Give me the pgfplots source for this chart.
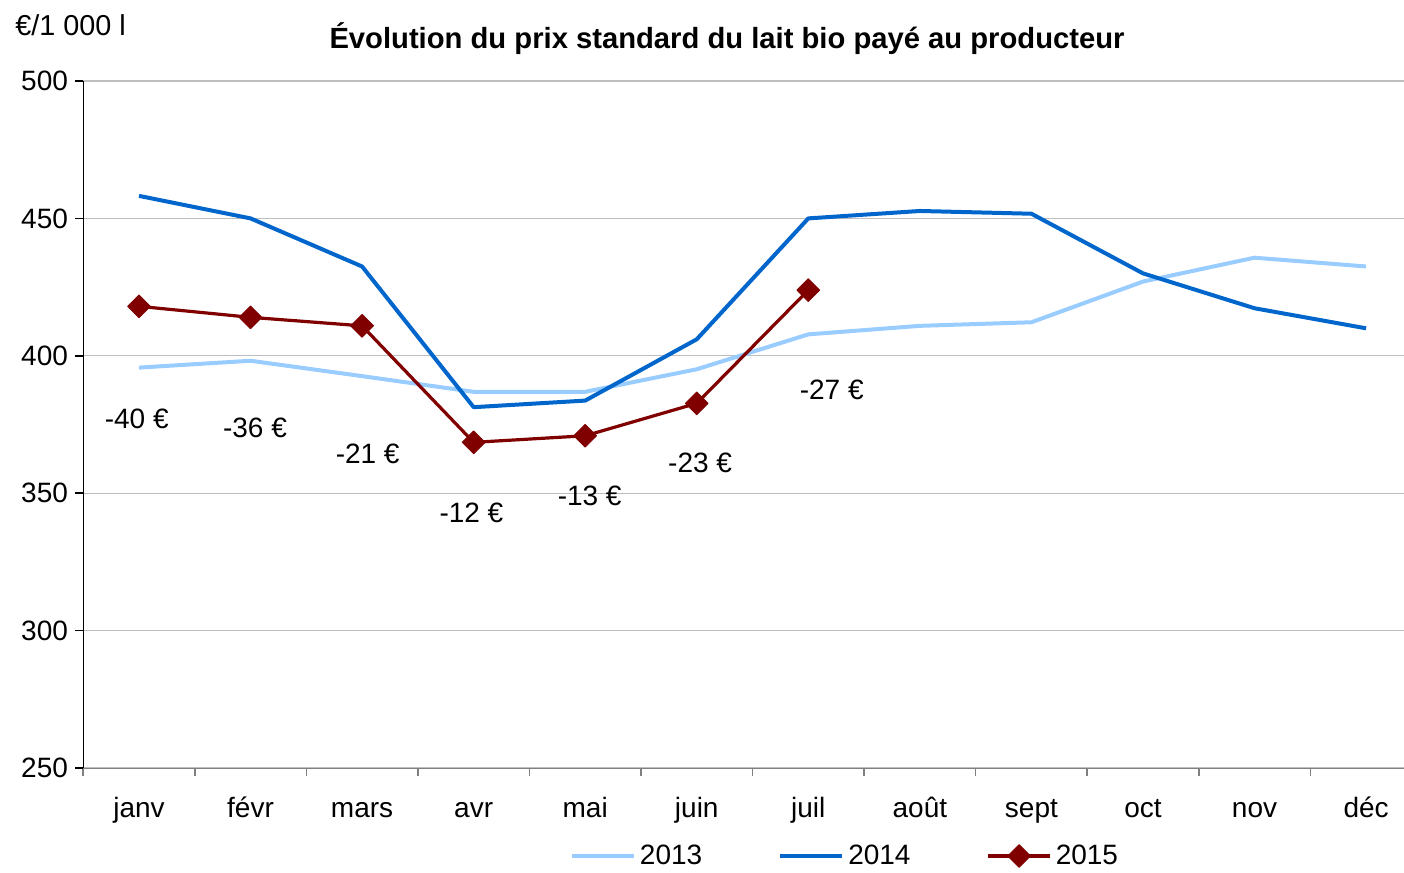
\documentclass[border=0pt]{standalone}
\usepackage{pgfplots}
\pgfplotsset{compat=1.18}
\usepackage{fontspec}
\setmainfont{Liberation Sans}
\definecolor{c2013}{RGB}{153,204,255}
\definecolor{c2014}{RGB}{0,102,204}
\definecolor{c2015}{RGB}{128,0,0}
\definecolor{gridc}{RGB}{190,190,190}
\begin{document}
\begin{tikzpicture}
\path[use as bounding box] (-41.5pt,-52.5pt) rectangle (660.5pt,384pt);
\begin{axis}[
  scale only axis, width=660.5pt, height=343.5pt,
  xmin=-0.502, xmax=11.34, ymin=250, ymax=500,
  clip=false,
  axis lines*=left,
  axis line style={-},
  x axis line style={draw=gray},
  y axis line style={draw=black},
  xtick={0,...,11},
  xticklabels={janv,févr,mars,avr,mai,juin,juil,août,sept,oct,nov,déc},
  minor xtick={-0.5,0.5,...,10.5},
  major x tick style={draw=none},
  minor x tick style={draw=gray, thick},
  minor tick length=4pt,
  ytick={250,300,...,500},
  major y tick style={draw=black, thick},
  major tick length=4pt,
  tick align=outside,
  ymajorgrids, grid style={gridc, line width=0.6pt},
  /pgf/number format/assume math mode=true,
  tick label style={font=\fontsize{14}{16}\selectfont},
  xticklabel style={yshift=-6pt, text height=11pt, text depth=3pt},
  yticklabel style={xshift=0pt},
  title={\bfseries Évolution du prix standard du lait bio payé au producteur},
  title style={at={(axis description cs:0.4875,1.0437)}, anchor=center, yshift=0pt, font=\fontsize{14.6}{16}\selectfont},
  legend columns=3,
  legend style={at={(axis description cs:0.5776,-0.128)}, anchor=center, draw=none, fill=none,
    font=\fontsize{14}{16}\selectfont, /tikz/every even column/.append style={column sep=36pt},
    inner sep=0pt},
  legend image code/.code={\draw[mark repeat=2,mark phase=2,#1] plot coordinates {(0pt,0pt) (15.5pt,0pt) (31pt,0pt)};},
]
\addplot[c2013, line width=2pt, line join=round, mark=none] coordinates {
(0,395.7) (1,398.2) (2,392.6) (3,386.9) (4,386.9) (5,395.1) (6,407.8) (7,410.9) (8,412.2) (9,427.0) (10,435.7) (11,432.5)};
\addlegendentry{2013}
\addplot[c2014, line width=2pt, line join=round, mark=none] coordinates {
(0,458.2) (1,450.0) (2,432.5) (3,381.3) (4,383.7) (5,406.0) (6,450.0) (7,452.7) (8,451.7) (9,430.0) (10,417.3) (11,410.0)};
\addlegendentry{2014}
\addplot[c2015, line width=1.6pt, line join=round, mark=square*, mark size=4pt, mark options={rotate=45, solid, fill=c2015, line width=0.5pt}] coordinates {
(0,418.0) (1,414.0) (2,410.9) (3,368.5) (4,370.9) (5,382.7) (6,423.9)};
\addlegendentry{2015}
\addplot[draw=none, mark=none, nodes near coords, point meta=explicit symbolic,
  every node near coord/.append style={anchor=center, font=\fontsize{14}{16}\selectfont, text=black}]
  table[meta=label, row sep=\\] {
x y label\\
-0.02 377.0 {-40 €}\\
1.04 373.7 {-36 €}\\
2.05 364.3 {-21 €}\\
2.98 342.7 {-12 €}\\
4.04 349.0 {-13 €}\\
5.03 361.1 {-23 €}\\
6.21 387.6 {-27 €}\\
};
\node[anchor=west, font=\fontsize{14.4}{16}\selectfont, inner sep=0pt] at (axis description cs:-0.0515,1.0815) {€/1 000 l};
\end{axis}
\end{tikzpicture}
\end{document}
